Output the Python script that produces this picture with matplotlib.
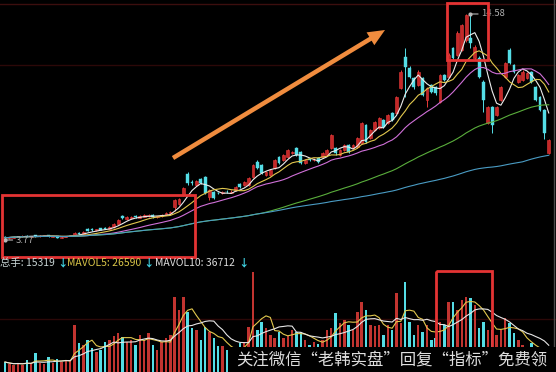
import numpy as np
import pandas as pd
import matplotlib
matplotlib.use("Agg")
import matplotlib.pyplot as plt
from matplotlib.patches import Rectangle, FancyArrow

plt.rcParams['font.family'] = ['Noto Sans CJK SC', 'DejaVu Sans']

# ---- daily bars: open / close / high / low ----
opens = [3.92, 3.86, 3.89, 3.92, 3.94, 3.98, 3.93, 3.99, 3.94, 3.96,
         3.99, 3.93, 3.95, 3.89, 3.92, 3.96, 4.00, 4.12, 4.06, 4.28,
         4.30, 4.24, 4.33, 4.36, 4.30, 4.38, 4.55, 4.90, 4.78, 4.80,
         4.92, 4.82, 4.88, 4.90, 4.98, 4.85, 4.90, 4.98, 5.05, 5.35,
         5.50, 5.92, 6.93, 6.54, 6.40, 6.69, 6.78, 5.83, 6.07, 6.04,
         6.02, 6.09, 6.04, 6.16, 6.45, 6.40, 6.40, 6.78, 7.50, 7.36,
         6.88, 6.88, 7.21, 7.74, 7.60, 7.74, 7.93, 8.17, 7.98, 7.45,
         7.66, 7.58, 7.69, 7.74, 7.84, 8.17, 8.17, 7.84, 8.07, 8.31,
         8.17, 8.22, 8.41, 9.27, 8.65, 9.03, 9.13, 9.51, 9.37, 9.84,
         9.84, 11.04, 12.52, 12.00, 11.52, 11.18, 11.52, 10.47, 11.18, 11.09,
         10.37, 11.66, 11.57, 12.95, 12.62, 12.86, 13.34, 13.43, 12.48, 12.48,
         11.33, 9.37, 10.13, 9.75, 10.47, 11.57, 12.86, 12.14, 11.33, 11.42,
         11.52, 11.81, 11.09, 10.61, 9.99, 7.93]
closes = [3.88, 3.90, 3.93, 3.96, 3.97, 3.93, 3.96, 3.94, 3.98, 3.99,
          3.94, 3.95, 3.89, 3.92, 3.96, 4.01, 4.10, 4.06, 4.15, 4.22,
          4.25, 4.29, 4.27, 4.30, 4.39, 4.55, 4.72, 4.80, 4.87, 4.85,
          4.85, 4.90, 4.97, 4.96, 4.86, 4.90, 4.99, 5.06, 5.12, 5.68,
          5.75, 6.26, 6.50, 6.50, 6.59, 6.50, 6.02, 6.16, 5.78, 6.00,
          6.07, 6.05, 6.09, 6.30, 6.30, 6.54, 6.74, 7.36, 7.21, 6.97,
          7.02, 7.12, 7.60, 7.45, 7.84, 8.07, 7.98, 7.84, 7.45, 7.60,
          7.62, 7.62, 7.50, 7.93, 8.07, 8.79, 7.93, 8.07, 8.31, 7.98,
          8.31, 8.65, 9.37, 8.46, 9.03, 9.41, 9.60, 9.17, 9.75, 9.51,
          10.61, 11.80, 12.04, 11.57, 11.09, 11.81, 10.71, 11.04, 10.85, 10.80,
          11.66, 11.42, 12.62, 12.48, 13.67, 14.05, 14.53, 13.19, 13.00, 11.57,
          10.47, 10.13, 9.27, 10.13, 11.09, 12.24, 12.24, 11.81, 11.66, 11.81,
          11.76, 11.33, 10.47, 9.99, 8.89, 8.55]
highs = [3.96, 3.92, 3.95, 3.98, 3.99, 4.00, 3.98, 4.01, 4.00, 4.01,
         4.00, 3.97, 3.96, 3.94, 3.98, 4.03, 4.13, 4.15, 4.18, 4.33,
         4.34, 4.32, 4.36, 4.40, 4.42, 4.58, 4.76, 4.98, 4.92, 4.90,
         4.97, 4.95, 5.02, 5.00, 5.01, 4.94, 5.02, 5.10, 5.16, 5.72,
         5.80, 6.32, 7.00, 6.62, 6.65, 6.75, 6.85, 6.20, 6.12, 6.08,
         6.12, 6.14, 6.14, 6.34, 6.50, 6.58, 6.78, 7.42, 7.58, 7.42,
         7.07, 7.16, 7.65, 7.78, 7.88, 8.12, 8.05, 8.22, 8.02, 7.65,
         7.70, 7.68, 7.73, 7.98, 8.12, 8.85, 8.22, 8.12, 8.36, 8.36,
         8.35, 8.70, 9.42, 9.32, 9.08, 9.46, 9.65, 9.56, 9.80, 9.90,
         10.68, 11.90, 12.95, 12.08, 11.58, 11.88, 11.58, 11.10, 11.22, 11.14,
         11.72, 11.72, 12.70, 13.02, 13.75, 14.12, 14.56, 14.58, 13.08, 12.55,
         11.40, 10.20, 10.20, 10.20, 11.15, 12.30, 12.95, 12.20, 11.72, 11.88,
         11.82, 11.86, 11.15, 10.66, 10.05, 8.62]
lows = [3.77, 3.84, 3.87, 3.90, 3.92, 3.91, 3.91, 3.92, 3.92, 3.95,
        3.92, 3.91, 3.87, 3.88, 3.91, 3.95, 3.99, 4.04, 4.05, 4.18,
        4.22, 4.22, 4.25, 4.28, 4.28, 4.36, 4.53, 4.76, 4.75, 4.77,
        4.82, 4.80, 4.85, 4.87, 4.80, 4.82, 4.88, 4.96, 5.02, 5.15,
        5.45, 5.88, 6.40, 6.42, 6.35, 6.45, 5.98, 5.68, 5.72, 5.95,
        5.97, 6.00, 6.00, 6.12, 6.25, 6.35, 6.35, 6.74, 7.15, 6.92,
        6.83, 6.84, 7.16, 7.40, 7.55, 7.70, 7.90, 7.80, 7.40, 7.40,
        7.56, 7.54, 7.46, 7.70, 7.80, 8.12, 7.84, 7.80, 8.02, 7.94,
        8.12, 8.18, 8.38, 8.40, 8.60, 8.98, 9.08, 9.12, 9.32, 9.46,
        9.78, 10.98, 10.61, 11.50, 11.00, 11.12, 10.65, 10.13, 10.80, 10.72,
        10.30, 11.36, 11.50, 12.40, 12.55, 12.80, 13.25, 12.95, 12.40, 11.50,
        9.89, 9.30, 8.89, 9.70, 10.42, 11.52, 12.18, 11.75, 11.28, 11.36,
        11.46, 11.28, 10.40, 9.94, 8.60, 7.88]

# ---- traded volume (lots) ----
volumes = [13700, 11000, 9600, 12300, 9600, 16500, 11000, 26000, 12300, 11000,
           20500, 12300, 17800, 13700, 15000, 16500, 64500, 40000, 37000, 44000,
           33000, 27400, 30200, 41000, 44000, 49400, 53500, 48000, 41000, 44000,
           37000, 50800, 44000, 53500, 37000, 30200, 41000, 46600, 50800, 103000,
           85000, 103000, 82000, 60400, 57600, 44000, 61700, 54900, 46600, 35700,
           35700, 30200, 27400, 30200, 40000, 41000, 61700, 137000, 57600, 68600,
           60400, 50800, 46600, 54900, 46600, 49400, 57600, 54900, 54900, 44000,
           37000, 41000, 38400, 44000, 57600, 60400, 81000, 67200, 71300, 64500,
           57600, 82300, 96000, 85000, 64500, 63000, 64500, 50800, 64500, 57600,
           108000, 67200, 123000, 68600, 50800, 64500, 54900, 64500, 44000, 46600,
           68600, 64500, 96000, 96000, 85000, 98800, 103000, 101500, 92000, 60400,
           68600, 57600, 57600, 50800, 57600, 74000, 66700, 53500, 44000, 37000,
           32970, 40000, 30000, 25000, 22631, 15319]

ma_windows = [5, 10, 20, 60, 120]
ma_colors = ['#ececec', '#e2c84e', '#d070d8', '#5aae3c', '#4a9cc4']
vol_ma_windows = [5, 10]
vol_ma_colors = ['#e2c84e', '#e6e6e6']

W, H = 556, 372
BG = '#000000'
UP_FACE, UP_EDGE = '#c42828', '#e83a3a'
DOWN = '#54dde6'
VOL_UP = '#c23430'

o = np.array(opens); c = np.array(closes)
h = np.array(highs); l = np.array(lows)
v = np.array(volumes, dtype=float)
n = len(c)
idx = np.arange(n)
up = c >= o

fig = plt.figure(figsize=(W / 100, H / 100), dpi=100, facecolor=BG)

step, x0 = 4.35, 5.0
xlim = (-x0 / step, (W - x0) / step)

# price panel
ax = fig.add_axes([0, 1 - 255 / H, 1, 252 / H])
ax.set_facecolor(BG)
ax.set_xlim(*xlim)
ax.set_ylim(3.053, 15.106)
ax.axis('off')
ax.axhline(15.07, color='#3c0e0e', lw=1.0, zorder=0)
ax.axhline(12.14, color='#2c0808', lw=1.0, zorder=0)

wick_col = np.where(up, UP_EDGE, DOWN)
ax.vlines(idx, l, h, colors=wick_col, lw=0.7, zorder=2)
body_lo = np.minimum(o, c)
body_h = np.maximum(np.abs(c - o), 0.03)
ax.bar(idx[up], body_h[up], bottom=body_lo[up], width=0.66,
       color=UP_FACE, edgecolor=UP_EDGE, linewidth=0.4, zorder=3)
ax.bar(idx[~up], body_h[~up], bottom=body_lo[~up], width=0.66,
       color=DOWN, edgecolor=DOWN, linewidth=0.3, zorder=3)

close_s = pd.Series(c)
for w, col in zip(ma_windows, ma_colors):
    ax.plot(idx, close_s.rolling(w, min_periods=1).mean(), color=col,
            lw=0.8, zorder=4)

# lowest low and highest high labels
lo_i = int(np.argmin(l))
hi_i = int(np.argmax(h))
for i, val in ((lo_i, l[lo_i]), (hi_i, h[hi_i])):
    ax.plot([i], [val], marker='o', ms=2, color='#b8b8b8', zorder=5)
    ax.annotate(f"{val:.2f}", xy=(i, val), xytext=(7.5, 0),
                textcoords='offset points', va='center', ha='left',
                fontsize=6.8, color='#b0b0b0', zorder=5,
                arrowprops=dict(arrowstyle='-', color='#b8b8b8', lw=0.8,
                                shrinkA=0, shrinkB=0))

# volume panel
axv = fig.add_axes([0, 0, 1, 102 / H])
axv.set_facecolor(BG)
axv.set_xlim(*xlim)
axv.set_ylim(0, 140000)
axv.axis('off')
axv.axhline(72700, color='#2c0808', lw=1.0, zorder=0)
axv.bar(idx, v, width=0.56, color=np.where(up, VOL_UP, DOWN), zorder=2)
vol_s = pd.Series(v)
vol_mas = []
for w, col in zip(vol_ma_windows, vol_ma_colors):
    m = vol_s.rolling(w, min_periods=1).mean()
    vol_mas.append(m)
    axv.plot(idx, m, color=col, lw=0.8, zorder=3)

# overlay in pixel space for annotations
ov = fig.add_axes([0, 0, 1, 1])
ov.set_xlim(0, W)
ov.set_ylim(H, 0)
ov.axis('off')
ov.patch.set_alpha(0)

ov.plot([554, 554], [0, H], color='#4a4a4a', lw=1.0)

# volume legend row
row_y = 263
fs = 7.5
ov.text(0, row_y, f"总手: {int(v[-1])}", color='#c8d4d4', fontsize=fs, va='center')
ov.text(57, row_y, "↓", color='#40d4e4', fontsize=fs, va='center', fontweight='bold')
ov.text(67, row_y, f"MAVOL5: {vol_mas[0].iloc[-1]:.0f}", color='#d8c448',
        fontsize=fs, va='center')
ov.text(143, row_y, "↓", color='#40d4e4', fontsize=fs, va='center', fontweight='bold')
ov.text(155, row_y, f"MAVOL10: {vol_mas[1].iloc[-1]:.0f}", color='#dcdcdc',
        fontsize=fs, va='center')
ov.text(238, row_y, "↓", color='#40d4e4', fontsize=fs, va='center', fontweight='bold')

# highlight boxes
box_kw = dict(fill=False, edgecolor='#e43434', lw=2.0)
ov.add_patch(Rectangle((2, 195), 193, 62, **box_kw))
ov.add_patch(Rectangle((447, 3), 41, 57, **box_kw))
ov.add_patch(Rectangle((436, 271), 56, 110, **box_kw))

# trend arrow
ov.add_patch(FancyArrow(173, 158, 212, -128, width=4.5, head_width=15,
                        head_length=17, length_includes_head=True,
                        color='#f08c3e', lw=0))

# caption strip
ov.add_patch(Rectangle((230, 347), W - 230, 30, facecolor='#000000',
                       edgecolor='none', zorder=6))
ov.text(236, 360, "关注微信“老韩实盘”回复“指标”免费领", color='#dedede',
        fontsize=11.8, va='center', ha='left', zorder=7,
        family=['Noto Sans CJK SC', 'DejaVu Sans'])

fig.savefig("out.png", dpi=100, facecolor=BG)
